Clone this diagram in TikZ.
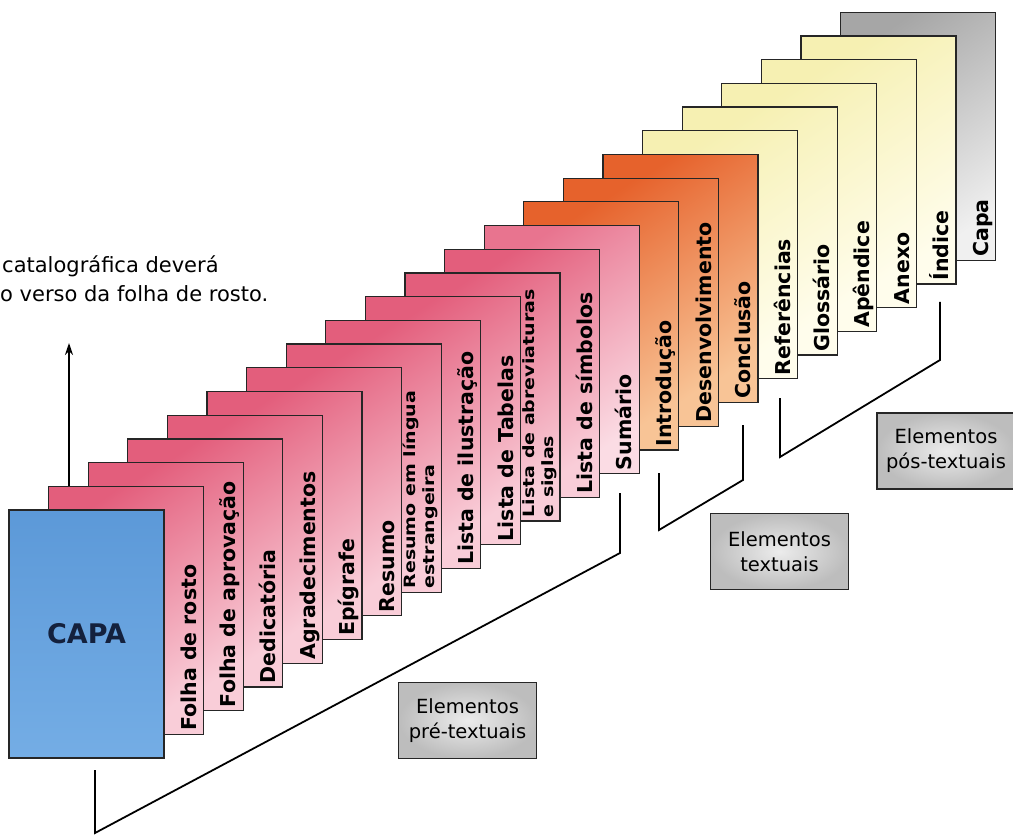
\documentclass[tikz,border=0pt]{standalone}
\usepackage{fontspec}
\setmainfont{DejaVu Sans}
\usetikzlibrary{calc,arrows.meta}
\definecolor{pinkD}{HTML}{E35E7C}
\definecolor{pinkL}{HTML}{F9CDD8}
\definecolor{sumD}{HTML}{E8748F}
\definecolor{sumL}{HTML}{FBDCE4}
\definecolor{orangeD}{HTML}{E6622C}
\definecolor{orangeL}{HTML}{F8C496}
\definecolor{yellowD}{HTML}{F6F0B2}
\definecolor{yellowL}{HTML}{FFFDEC}
\definecolor{grayD}{HTML}{A6A6A6}
\definecolor{grayL}{HTML}{F0F0F0}
\definecolor{blueD}{HTML}{5C99D8}
\definecolor{blueL}{HTML}{74ADE5}
\definecolor{navy}{HTML}{14213D}
\tikzset{
  page/.style={draw=black!85, line width=1.2pt, minimum width=155pt, minimum height=248pt, inner sep=0pt},
  pagepre/.style={page, top color=pinkD, bottom color=pinkL, shading angle=35},
  pagesum/.style={page, top color=sumD, bottom color=sumL, shading angle=35},
  pagetxt/.style={page, top color=orangeD, bottom color=orangeL, shading angle=35},
  pagepos/.style={page, top color=yellowD, bottom color=yellowL, shading angle=35},
  pagegray/.style={page, top color=grayD, bottom color=grayL, shading angle=35},
  pagecapa/.style={page, top color=blueD, bottom color=blueL, text=navy, font=\bfseries\fontsize{27}{30}\selectfont},
  lbl/.style={rotate=90, anchor=south west, inner sep=0pt, text depth=4.8pt, font=\bfseries\fontsize{20.5}{26}\selectfont},
  lbltwo/.style={lbl, yscale=0.82, align=left, font=\bfseries\fontsize{19}{23}\selectfont},
  elem/.style={draw=black!85, line width=1.3pt, minimum width=138pt, minimum height=76pt, inner color=gray!15, outer color=gray!52, align=center, font=\fontsize{19.5}{25}\selectfont},
  bracket/.style={line width=1.8pt},
  note/.style={anchor=base west, inner sep=0pt, font=\fontsize{21}{24}\selectfont}
}
\begin{document}
\begin{tikzpicture}[x=1pt, y=-1pt]
\useasboundingbox (0,0) rectangle (1013,837);
% pages, back to front
\foreach \i/\lbl/\pg/\ls in {21/Capa/pagegray/lbl, 20/Índice/pagepos/lbl, 19/Anexo/pagepos/lbl, 18/Apêndice/pagepos/lbl, 17/Glossário/pagepos/lbl, 16/Referências/pagepos/lbl, 15/Conclusão/pagetxt/lbl, 14/Desenvolvimento/pagetxt/lbl, 13/Introdução/pagetxt/lbl, 12/Sumário/pagesum/lbl, 11/Lista de símbolos/pagepre/lbl, 10/{Lista de abreviaturas\\e siglas}/pagepre/lbltwo, 9/Lista de Tabelas/pagepre/lbl, 8/Lista de ilustração/pagepre/lbl, 7/{Resumo em língua\\estrangeira}/pagepre/lbltwo, 6/Resumo/pagepre/lbl, 5/Epígrafe/pagepre/lbl, 4/Agradecimentos/pagepre/lbl, 3/Dedicatória/pagepre/lbl, 2/Folha de aprovação/pagepre/lbl, 1/Folha de rosto/pagepre/lbl}{
  \node[\pg] (p\i) at ({86.5+39.6*\i},{634-23.7*\i}) {};
  \node[\ls] (t\i) at ($(p\i.south east)+(-3,-4)$) {\lbl};
}
\node[pagecapa] (p0) at (86.5,634) {CAPA};

% ficha catalografica
\node[note] (note1) at (2,273) {catalográfica deverá};
\node[note] (note2) at (0,302) {o verso da folha de rosto.};
\coordinate (ficha) at (69,343);
\draw[line width=1.5pt, -{Stealth[length=12pt, width=8pt]}] (p1.north west -| ficha) -- (ficha);

% groups
\node[elem] (bpre) at (467.5,720.5) {Elementos\\pré-textuais};
\node[elem] (btxt) at (779.5,551.5) {Elementos\\textuais};
\node[elem] (bpos) at (946,451) {Elementos\\pós-textuais};
\draw[bracket] (95,770) -- (95,833) -- (620,553) -- (620,493);
\draw[bracket] (659,473) -- (659,530) -- (743,480) -- (743,425);
\draw[bracket] (780,398) -- (780,457) -- (940,360) -- (940,302);
\end{tikzpicture}
\end{document}
